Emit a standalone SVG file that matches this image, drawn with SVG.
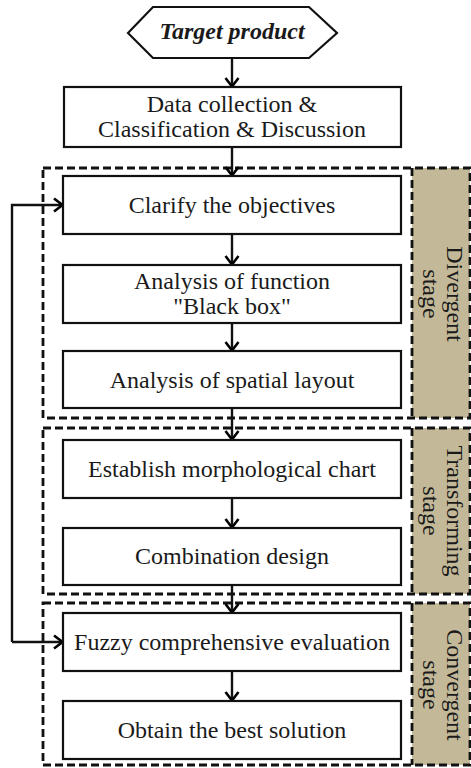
<svg xmlns="http://www.w3.org/2000/svg" width="471" height="768" viewBox="0 0 471 768">
<defs>
<marker id="ah" viewBox="0 0 12 16" refX="11" refY="8" markerWidth="12" markerHeight="16" markerUnits="userSpaceOnUse" orient="auto">
<path d="M2,1.5 L10.5,8 L2,14.5" fill="none" stroke="#000" stroke-width="2.6"/>
</marker>
<style>
.box{fill:#fff;stroke:#111;stroke-width:2.2}
.t{font-family:"Liberation Serif","Times New Roman",serif;font-size:24px;fill:#1a1a1a;text-anchor:middle}
.dash{fill:none;stroke:#111;stroke-width:2.8;stroke-dasharray:8 4}
.tan{fill:#C3B998}
.c{fill:none;stroke:#111;stroke-width:2.4}
</style>
</defs>
<rect width="471" height="768" fill="#fff"/>

<g id="stages">
<rect class="tan" x="412" y="168" width="58" height="250"/>
<rect class="tan" x="412" y="428" width="58" height="166"/>
<rect class="tan" x="412" y="603" width="58" height="162"/>
<rect class="dash" x="43" y="168" width="427" height="250"/>
<line class="dash" x1="412" y1="168" x2="412" y2="418"/>
<rect class="dash" x="43" y="428" width="427" height="166"/>
<line class="dash" x1="412" y1="428" x2="412" y2="594"/>
<rect class="dash" x="43" y="603" width="427" height="162"/>
<line class="dash" x1="412" y1="603" x2="412" y2="765"/>
</g>

<g id="label-divergent">
<text class="t" transform="translate(447,294) rotate(90)">Divergent</text>
<text class="t" transform="translate(423,294) rotate(90)">stage</text>
</g>
<g id="label-transforming">
<text class="t" transform="translate(447,511) rotate(90)">Transforming</text>
<text class="t" transform="translate(423,511) rotate(90)">stage</text>
</g>
<g id="label-convergent">
<text class="t" transform="translate(447,685) rotate(90)">Convergent</text>
<text class="t" transform="translate(423,685) rotate(90)">stage</text>
</g>

<g id="connectors">
<line class="c" x1="232" y1="58" x2="232" y2="87" marker-end="url(#ah)"/>
<line class="c" x1="232" y1="147" x2="232" y2="176" marker-end="url(#ah)"/>
<line class="c" x1="232" y1="234" x2="232" y2="265" marker-end="url(#ah)"/>
<line class="c" x1="232" y1="323" x2="232" y2="351" marker-end="url(#ah)"/>
<line class="c" x1="232" y1="408" x2="232" y2="440" marker-end="url(#ah)"/>
<line class="c" x1="232" y1="498" x2="232" y2="528" marker-end="url(#ah)"/>
<line class="c" x1="232" y1="585" x2="232" y2="613" marker-end="url(#ah)"/>
<line class="c" x1="232" y1="671" x2="232" y2="701" marker-end="url(#ah)"/>
<path class="c" d="M12,642 L12,205 L63,205" marker-end="url(#ah)"/>
<path class="c" d="M12,642 L63,642" marker-end="url(#ah)"/>
</g>

<g id="target">
<polygon class="box" points="128,33 153,7 309,7 337,33 309,58 153,58"/>
<text class="t" x="232" y="39" font-weight="bold" font-style="italic">Target product</text>
</g>
<g id="data">
<rect class="box" x="64" y="87" width="337" height="60"/>
<text class="t" x="232" y="111.5">Data collection &amp;</text>
<text class="t" x="232" y="136.5">Classification &amp; Discussion</text>
</g>
<g id="clarify">
<rect class="box" x="63" y="176" width="338" height="58"/>
<text class="t" x="232" y="213">Clarify the objectives</text>
</g>
<g id="function">
<rect class="box" x="63" y="265" width="338" height="58"/>
<text class="t" x="232" y="289">Analysis of function</text>
<text class="t" x="232" y="314">"Black box"</text>
</g>
<g id="spatial">
<rect class="box" x="63" y="351" width="338" height="57"/>
<text class="t" x="232" y="388">Analysis of spatial layout</text>
</g>
<g id="morph">
<rect class="box" x="63" y="440" width="338" height="58"/>
<text class="t" x="232" y="477">Establish morphological chart</text>
</g>
<g id="combination">
<rect class="box" x="63" y="528" width="338" height="57"/>
<text class="t" x="232" y="564">Combination design</text>
</g>
<g id="fuzzy">
<rect class="box" x="63" y="613" width="338" height="58"/>
<text class="t" x="232" y="650">Fuzzy comprehensive evaluation</text>
</g>
<g id="best">
<rect class="box" x="63" y="701" width="338" height="58"/>
<text class="t" x="232" y="738">Obtain the best solution</text>
</g>
</svg>
